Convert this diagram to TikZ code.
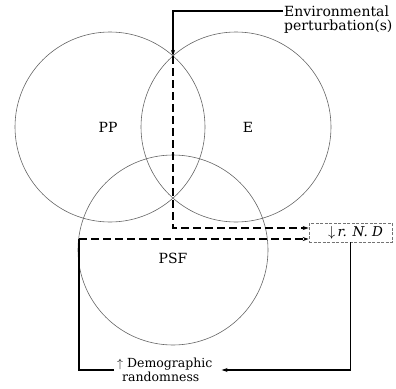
\documentclass[tikz,border=0pt]{standalone}
\usepackage{fontspec}
\setmainfont{DejaVu Serif}
\usetikzlibrary{arrows.meta,calc}
\begin{document}
\begin{tikzpicture}[x=1pt,y=-1pt,
  venn/.style={circle,draw=black!60,line width=0.6pt,minimum size=190pt,inner sep=0pt},
  conn/.style={line width=1.2pt,black},
  tip/.style={-{Stealth[length=6pt,width=4pt]}},
  dsh/.style={dash pattern=on 8pt off 4pt},
  lbl/.style={font=\fontsize{14}{15}\selectfont,inner sep=1pt,align=center},
  sbox/.style={draw=black!55,line width=0.6pt,dash pattern=on 3pt off 1.5pt,minimum width=83pt,minimum height=19pt,inner sep=0pt,font=\fontsize{13.5}{16}\selectfont}]
\useasboundingbox (0,0) rectangle (396,388);
\node[venn] (pp) at (110,127) {};
\node[lbl] (pplbl) at (108,127) {PP};
\node[venn] (e) at (236,127) {};
\node[lbl] (elbl) at (248,127) {E};
\node[venn] (psf) at (173,250) {};
\node[lbl] (psflbl) at (173,258) {PSF};
\coordinate (ti) at (173,56);
\coordinate (le) at (79,239);
\node[lbl,anchor=west] (env1) at (283,11) {Environmental};
\node[lbl,anchor=west] (env2) at (283,27) {perturbation(s)};
\node[sbox] (rnd) at (350.5,232.5) {\hspace*{10pt}$\downarrow$\,\textit{r. N. D}};
\node[lbl,align=left,anchor=west,inner sep=3pt,font=\fontsize{12.5}{14}\selectfont] (dem) at (114,370) {$\uparrow$ Demographic\\\hspace*{0.4em}randomness};
\draw[conn,tip] (env1.west) -| (ti);
\draw[conn,dsh,tip] (ti) |- ($(rnd.west)+(0,-4.5)$);
\draw[conn] (dem.west) -| (le |- 0,239) -- (le);
\draw[conn,dsh,tip] (le) -- (le -| rnd.west);
\draw[conn,tip,shorten >=6pt] (rnd.south) |- (dem.east);
\end{tikzpicture}
\end{document}
